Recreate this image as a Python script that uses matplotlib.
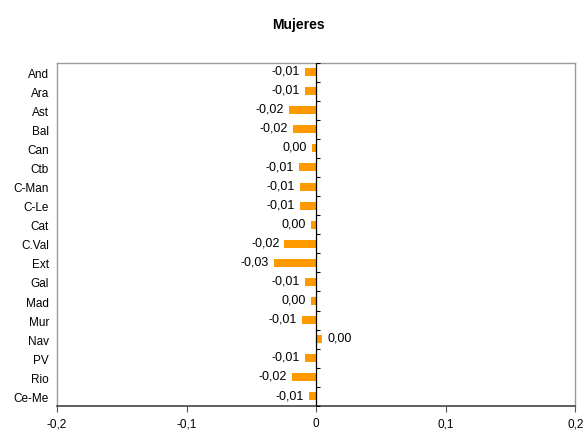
import matplotlib.pyplot as plt
import numpy as np

plt.rcParams['font.family'] = ['Liberation Sans', 'DejaVu Sans']

# regions, top to bottom
regions = ['And', 'Ara', 'Ast', 'Bal', 'Can', 'Ctb', 'C-Man', 'C-Le', 'Cat',
           'C.Val', 'Ext', 'Gal', 'Mad', 'Mur', 'Nav', 'PV', 'Rio', 'Ce-Me']
values = [-0.0087, -0.0087, -0.021, -0.018, -0.0033, -0.0134, -0.0126, -0.0126,
          -0.0041, -0.0245, -0.0327, -0.0087, -0.0041, -0.011, 0.0047, -0.0087,
          -0.0188, -0.0058]
xticks = [-0.2, -0.1, 0, 0.1, 0.2]
xticklabels = ['-0,2', '-0,1', '0', '0,1', '0,2']


def fmt(v):
    s = f'{v:.2f}'
    if s == '-0.00':
        s = '0.00'
    return s.replace('.', ',')


fig = plt.figure(figsize=(5.86, 4.35), dpi=100)
ax = fig.add_axes([0.0973, 0.0644, 0.8847, 0.7896])

y = np.arange(len(regions))
ax.barh(y, values, height=0.42, color='#ff9900', zorder=2)

for yi, v in zip(y, values):
    off = 3.6 if v > 0 else -3.6
    ha = 'left' if v > 0 else 'right'
    ax.annotate(fmt(v), (v, yi), xytext=(off, 1.0), textcoords='offset points',
                ha=ha, va='center', fontsize=9)

# zero line with small tick marks between categories
ax.axvline(0, color='black', lw=0.9, zorder=3)
ax.plot(np.zeros(len(regions) + 1), np.arange(len(regions) + 1) - 0.5,
        linestyle='none', marker=1, markersize=3, color='black', mew=0.8, zorder=3)

ax.set_xlim(-0.2, 0.2)
ax.set_ylim(len(regions) - 0.5, -0.5)
ax.set_yticks(y)
ax.set_yticklabels(regions, fontsize=8.5)
ax.set_xticks(xticks)
ax.set_xticklabels(xticklabels, fontsize=8.5)
ax.tick_params(axis='y', length=0, pad=5.8)
ax.tick_params(axis='x', length=4, width=0.8, color='#555555', pad=4)

for side in ['top', 'right', 'left']:
    ax.spines[side].set_color('#9a9a9a')
    ax.spines[side].set_linewidth(1.0)
ax.spines['bottom'].set_color('#444444')
ax.spines['bottom'].set_linewidth(1.2)

fig.text(0.509, 0.943, 'Mujeres', ha='center', va='center', fontsize=10,
         fontweight='bold')

plt.savefig('out.png', dpi=100)
